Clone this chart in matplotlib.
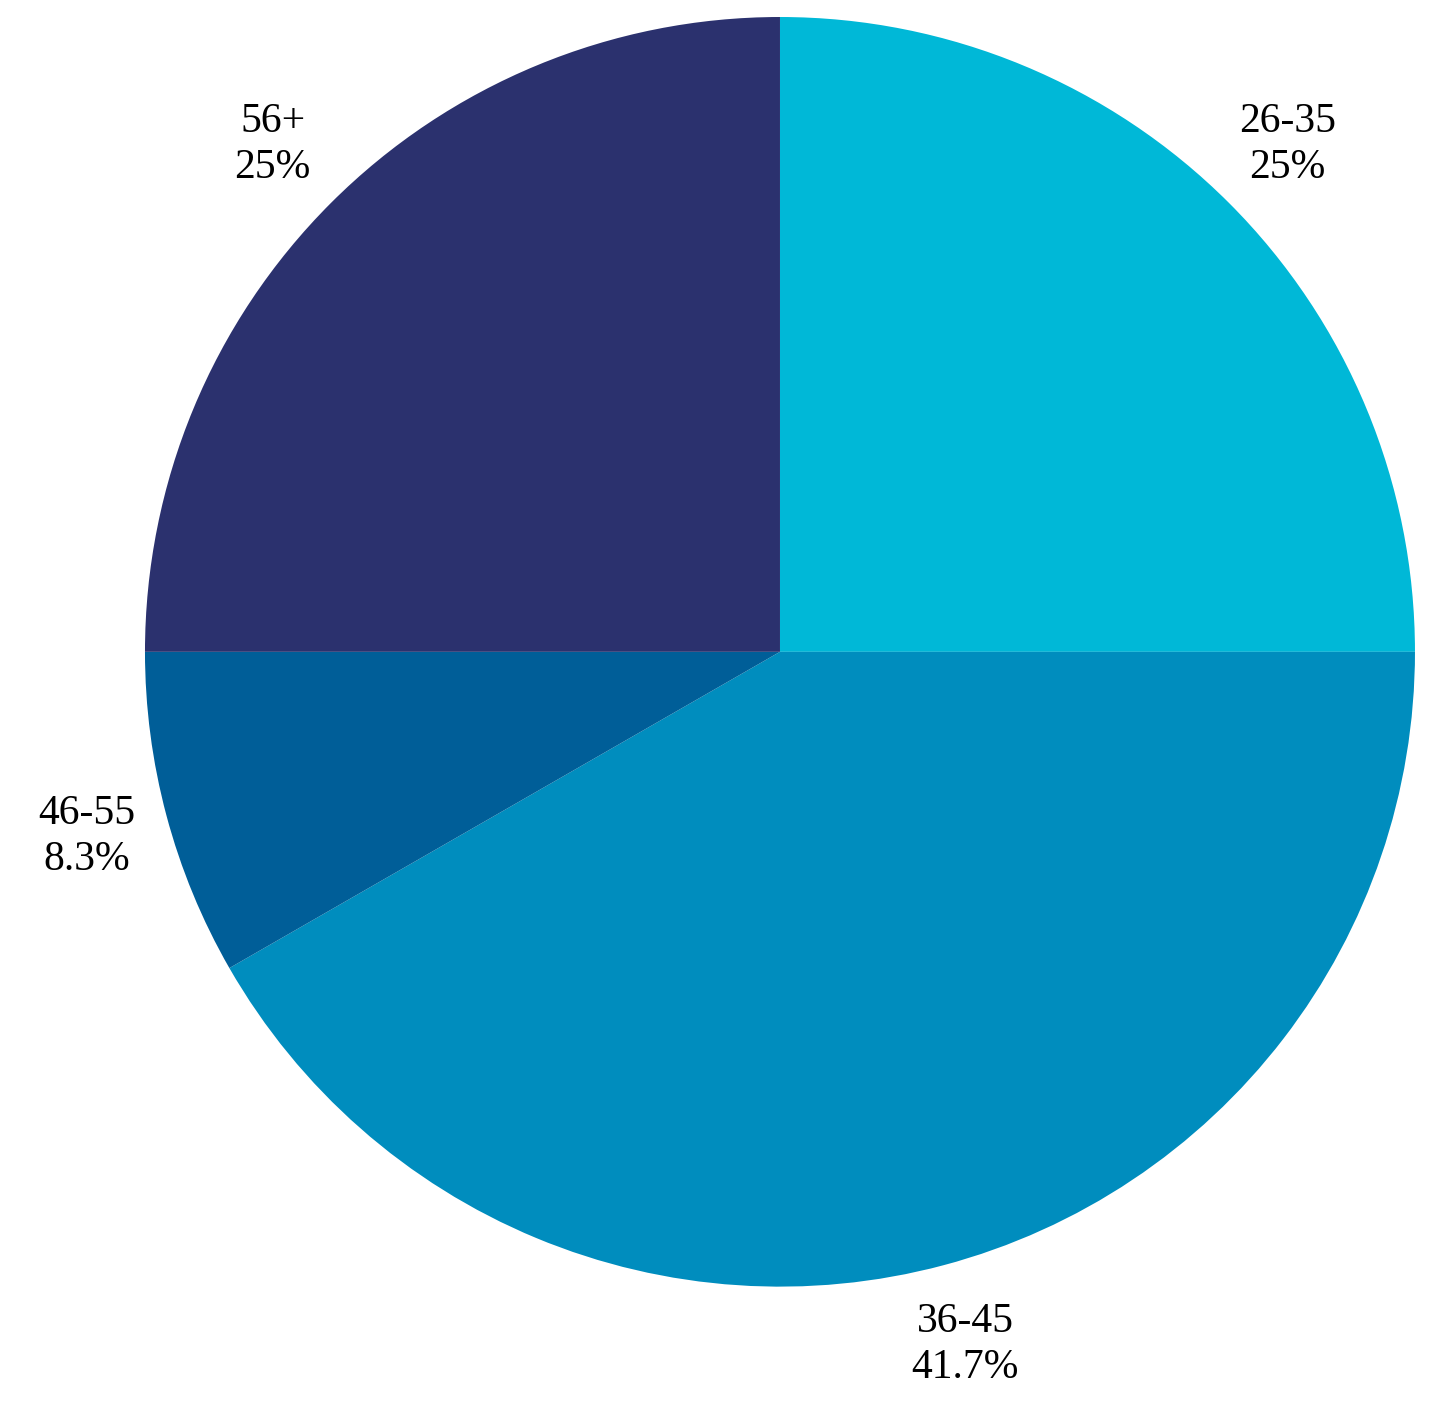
import matplotlib.pyplot as plt

groups = ["26-35", "36-45", "46-55", "56+"]
shares = [25, 41.7, 8.3, 25]
pct_labels = ["25%", "41.7%", "8.3%", "25%"]
colors = ["#00B8D7", "#008DBE", "#005E98", "#2B316E"]

fig = plt.figure(figsize=(14.44, 14.17), dpi=100)
ax = fig.add_axes([0.1004, 0.092, 0.8795, 0.896])

labels = [g + "\n" + p for g, p in zip(groups, pct_labels)]
wedges, texts = ax.pie(shares, labels=labels, colors=colors, startangle=90,
                       counterclock=False, labeldistance=1.13,
                       textprops={"family": "Liberation Serif", "fontsize": 30,
                                  "linespacing": 1.25})
for t in texts:
    t.set_ha("center")
ax.set_aspect("auto")
ax.set_xlim(-1, 1)
ax.set_ylim(-1, 1)

plt.savefig("out.png", dpi=100)
